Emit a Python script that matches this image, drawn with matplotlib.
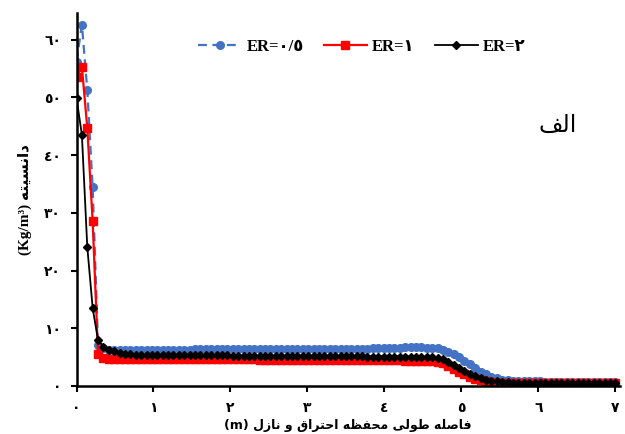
import matplotlib
matplotlib.use('Agg')
import matplotlib.pyplot as plt
import numpy as np

# axial grid along the chamber and nozzle (m)
x = np.round(np.arange(101) * 0.07, 2)

rho_er05 = [56.2, 62.6, 51.3, 34.4, 7.1, 6.5, 6.3, 6.2, 6.2, 6.2, 6.2,
            6.2, 6.2, 6.2, 6.2, 6.2, 6.2, 6.2, 6.2, 6.2, 6.3,
            6.3, 6.4, 6.4, 6.4, 6.4, 6.4, 6.4, 6.4, 6.4, 6.4,
            6.4, 6.4, 6.4, 6.4, 6.4, 6.4, 6.4, 6.4, 6.4, 6.4,
            6.4, 6.4, 6.4, 6.4, 6.4, 6.4, 6.4, 6.4, 6.4, 6.4,
            6.4, 6.4, 6.4, 6.4, 6.5, 6.5, 6.6, 6.6, 6.6, 6.6,
            6.7, 6.7, 6.7, 6.7, 6.6, 6.6, 6.5, 6.2, 5.9, 5.5,
            5.0, 4.4, 3.8, 3.1, 2.5, 2.0, 1.6, 1.3, 1.1, 1.0,
            0.9, 0.9, 0.8, 0.8, 0.8, 0.8, 0.7, 0.7, 0.7, 0.7,
            0.7, 0.7, 0.7, 0.7, 0.7, 0.7, 0.7, 0.7, 0.7, 0.7]

rho_er1 = [53.6, 55.3, 44.7, 28.5, 5.5, 4.8, 4.7, 4.6, 4.6, 4.6, 4.6,
           4.6, 4.6, 4.6, 4.6, 4.6, 4.6, 4.6, 4.6, 4.6, 4.6,
           4.6, 4.6, 4.6, 4.6, 4.6, 4.6, 4.6, 4.6, 4.6, 4.6,
           4.6, 4.6, 4.6, 4.5, 4.5, 4.5, 4.5, 4.5, 4.5, 4.5,
           4.5, 4.5, 4.5, 4.5, 4.5, 4.5, 4.5, 4.5, 4.5, 4.5,
           4.5, 4.5, 4.5, 4.5, 4.5, 4.5, 4.5, 4.5, 4.5, 4.5,
           4.4, 4.4, 4.4, 4.4, 4.4, 4.3, 4.2, 3.9, 3.5, 3.0,
           2.5, 2.0, 1.6, 1.2, 1.0, 0.8, 0.7, 0.6, 0.6, 0.6,
           0.5, 0.5, 0.5, 0.5, 0.5, 0.5, 0.5, 0.5, 0.5, 0.5,
           0.5, 0.5, 0.5, 0.5, 0.5, 0.5, 0.5, 0.5, 0.5, 0.5]

rho_er2 = [49.9, 43.5, 24.1, 13.5, 7.9, 6.8, 6.3, 6.0, 5.8, 5.6, 5.5,
           5.4, 5.4, 5.4, 5.4, 5.4, 5.3, 5.3, 5.3, 5.3, 5.3,
           5.3, 5.3, 5.3, 5.3, 5.3, 5.3, 5.3, 5.3, 5.2, 5.2,
           5.2, 5.2, 5.2, 5.2, 5.2, 5.2, 5.2, 5.2, 5.2, 5.2,
           5.2, 5.2, 5.2, 5.2, 5.2, 5.2, 5.2, 5.2, 5.2, 5.2,
           5.2, 5.2, 5.2, 5.1, 5.1, 5.1, 5.1, 5.1, 5.1, 5.1,
           5.1, 5.1, 5.1, 5.0, 5.0, 5.0, 4.9, 4.6, 4.2, 3.7,
           3.1, 2.6, 2.1, 1.7, 1.4, 1.1, 0.9, 0.8, 0.7, 0.7,
           0.6, 0.6, 0.6, 0.6, 0.6, 0.6, 0.6, 0.6, 0.6, 0.6,
           0.6, 0.6, 0.6, 0.6, 0.6, 0.6, 0.6, 0.6, 0.6, 0.6]

x_ticks = [0, 1, 2, 3, 4, 5, 6, 7]
y_ticks = [0, 10, 20, 30, 40, 50, 60]
series_labels = ['ER=٠/٥', 'ER=١', 'ER=٢']

# presentation forms: isolated, final, initial, medial
FORMS = {
    'ا': ('\uFE8D', '\uFE8E', None, None),
    'د': ('\uFEA9', '\uFEAA', None, None),
    'ر': ('\uFEAD', '\uFEAE', None, None),
    'ز': ('\uFEAF', '\uFEB0', None, None),
    'و': ('\uFEED', '\uFEEE', None, None),
    'ت': ('\uFE95', '\uFE96', '\uFE97', '\uFE98'),
    'ح': ('\uFEA1', '\uFEA2', '\uFEA3', '\uFEA4'),
    'س': ('\uFEB1', '\uFEB2', '\uFEB3', '\uFEB4'),
    'ص': ('\uFEB9', '\uFEBA', '\uFEBB', '\uFEBC'),
    'ط': ('\uFEC1', '\uFEC2', '\uFEC3', '\uFEC4'),
    'ظ': ('\uFEC5', '\uFEC6', '\uFEC7', '\uFEC8'),
    'ف': ('\uFED1', '\uFED2', '\uFED3', '\uFED4'),
    'ق': ('\uFED5', '\uFED6', '\uFED7', '\uFED8'),
    'ل': ('\uFEDD', '\uFEDE', '\uFEDF', '\uFEE0'),
    'م': ('\uFEE1', '\uFEE2', '\uFEE3', '\uFEE4'),
    'ن': ('\uFEE5', '\uFEE6', '\uFEE7', '\uFEE8'),
    'ه': ('\uFEE9', '\uFEEA', '\uFEEB', '\uFEEC'),
    'ی': ('\uFEEF', '\uFEF0', '\uFEF3', '\uFEF4'),
}


def shape(text):
    # join letters by hand and flip to visual order, agg does no shaping
    out = []
    for i, ch in enumerate(text):
        if ch not in FORMS:
            out.append(ch)
            continue
        prev = text[i - 1] if i > 0 else ' '
        nxt = text[i + 1] if i + 1 < len(text) else ' '
        join_prev = prev in FORMS and FORMS[prev][2] is not None
        join_next = FORMS[ch][2] is not None and nxt in FORMS
        iso, fin, ini, med = FORMS[ch]
        if join_prev and join_next:
            out.append(med)
        elif join_prev:
            out.append(fin)
        elif join_next:
            out.append(ini)
        else:
            out.append(iso)
    return ''.join(out)[::-1]


def fa_digits(v):
    return str(v).translate(str.maketrans('0123456789', '٠١٢٣٤٥٦٧٨٩'))


fig = plt.figure(figsize=(6.25, 4.34), dpi=100)
ax = fig.add_axes([0.1224, 0.1106, 0.8696, 0.8594])

ax.plot(x, rho_er05, color='#4472c4', ls=(0, (4, 2.5)), lw=1.6, marker='o',
        ms=5.5, label=series_labels[0])
ax.plot(x, rho_er1, color='#ff0000', lw=1.6, marker='s', ms=5.5,
        label=series_labels[1])
ax.plot(x, rho_er2, color='black', lw=1.3, marker='D', ms=4,
        label=series_labels[2])

ax.set_xlim(0, 7.06)
ax.set_ylim(0, 64.6)
ax.set_xticks(x_ticks)
ax.set_yticks(y_ticks)
tick_font = dict(family=['DejaVu Sans'], fontsize=10, fontweight='bold')
ax.set_xticklabels([fa_digits(v) for v in x_ticks], **tick_font)
ax.set_yticklabels([fa_digits(v) for v in y_ticks], **tick_font)
ax.tick_params(direction='out', length=4, width=1.5, pad=7)

for side in ['top', 'right']:
    ax.spines[side].set_visible(False)
for side in ['left', 'bottom']:
    ax.spines[side].set_linewidth(1.8)

ax.set_xlabel('(m) ' + shape('فاصله طولی محفظه احتراق و نازل'),
              family=['DejaVu Sans'], fontsize=9, fontweight='bold', labelpad=3)
ax.set_ylabel('(Kg/m³) ' + shape('دانسیته'),
              family=['Liberation Serif', 'DejaVu Sans'], fontsize=11,
              fontweight='bold', labelpad=9)

ax.text(0.885, 0.70, shape('الف'), transform=ax.transAxes, fontsize=17,
        family=['DejaVu Sans'], ha='center', va='center')

ax.legend(loc='center', bbox_to_anchor=(0.525, 0.91), ncol=3, frameon=False,
          handlelength=2.6, columnspacing=1.2, handletextpad=0.3,
          prop=dict(family=['Liberation Serif', 'DejaVu Sans'], weight='bold',
                    size=12))

fig.savefig('out.png', dpi=100)
